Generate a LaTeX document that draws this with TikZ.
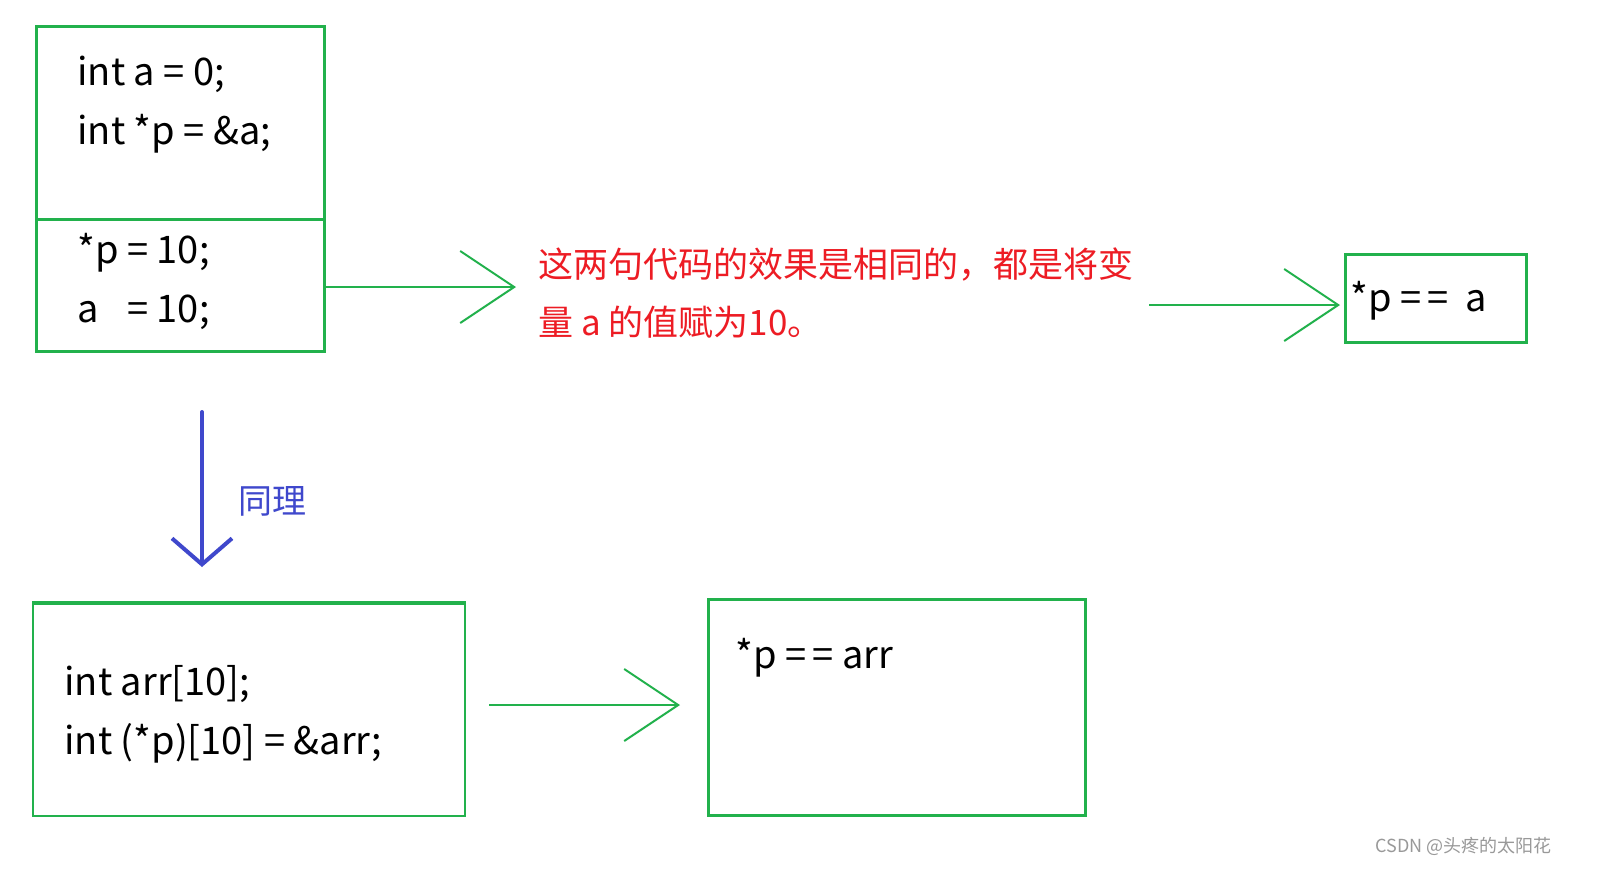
\documentclass[tikz,border=0pt]{standalone}
\usepackage{fontspec}
\setmainfont{Noto Sans CJK SC}
\usetikzlibrary{arrows.meta,positioning}
\definecolor{pgreen}{RGB}{34,177,76}
\definecolor{pred}{RGB}{237,28,36}
\definecolor{pblue}{RGB}{63,72,204}
\tikzset{
    box/.style =    {rectangle,
                    draw=pgreen,
                    line width=1.5pt,
                    inner sep=0pt,
                    anchor=north west},
    code/.style =   {anchor=west,
                    align=left,
                    inner sep=0pt,
                    text=black,
                    font=\fontsize{19}{29.5}\selectfont},
    note/.style =   {anchor=west,
                    align=left,
                    inner sep=0pt,
                    text=pred,
                    font=\fontsize{17.5}{29}\selectfont},
    go/.style =     {draw=pgreen,
                    line width=1.3pt,
                    -{Straight Barb[length=27pt,width=36pt,line width=1pt]}},
    down/.style =   {draw=pblue,
                    line width=2pt,
                    line cap=round,
                    -{Straight Barb[length=13pt,width=30pt,line width=2pt]}},
    x=0.5pt, y=-0.5pt}

\begin{document}
\begin{tikzpicture}
    \useasboundingbox[fill=white] (0,0) rectangle (1597,880);
    % boxes
    \node[box, minimum width=144pt, minimum height=162.5pt] (B1) at (35,25) {};
    \node[box, minimum width=90.5pt, minimum height=44pt]   (B2) at (1344,253) {};
    \node[box, minimum width=216pt, minimum height=106pt, line width=1pt] (B3) at (32,603) {};
    \node[box, minimum width=188.5pt, minimum height=108pt] (B4) at (707,598) {};
    \draw[pgreen, line width=1.5pt] (B1.west |- 0,219) -- (B1.east |- 0,219);
    \draw[pgreen, line width=1.6pt] (B3.north west) -- (B3.north east);

    % texts
    \node[code] (C1) at (77,105) {int a = 0;\\int *p = \&a;};
    \node[code] (C2) at (77,282) {*p = 10;\\\rlap{a}\phantom{*p} = 10;};
    \node[code] (C3) at (64,714) {int arr[10];\\int (*p)[10] = \&arr;};
    \node[code] (C4) at (1350,301) {*p =\,=\ \ a};
    \node[code] (C5) at (735,658) {*p =\,= arr};
    \node[note] (N1) at (538,293) {这两句代码的效果是相同的，都是将变\\量 a 的值赋为10。};
    \node[anchor=west, inner sep=0pt, text=pblue, font=\fontsize{17}{20}\selectfont] (N2) at (238,501) {同理};
    \node[anchor=east, inner sep=0pt, text=black!40, font=\fontsize{9}{11}\selectfont] (W) at (1552,846) {CSDN @头疼的太阳花};

    % connectors
    \coordinate (t1) at (516,287);
    \coordinate (s2) at (1149,305);
    \coordinate (t2) at (1340,305);
    \coordinate (s3) at (489,705);
    \coordinate (t3) at (680,705);
    \coordinate (s4) at (202,412);
    \coordinate (t4) at (202,567);
    \draw[go] (B1.east |- t1) -- (t1);
    \draw[go] (s2) -- (t2);
    \draw[go] (s3) -- (t3);
    \draw[down] (s4) -- (t4);
\end{tikzpicture}
\end{document}
